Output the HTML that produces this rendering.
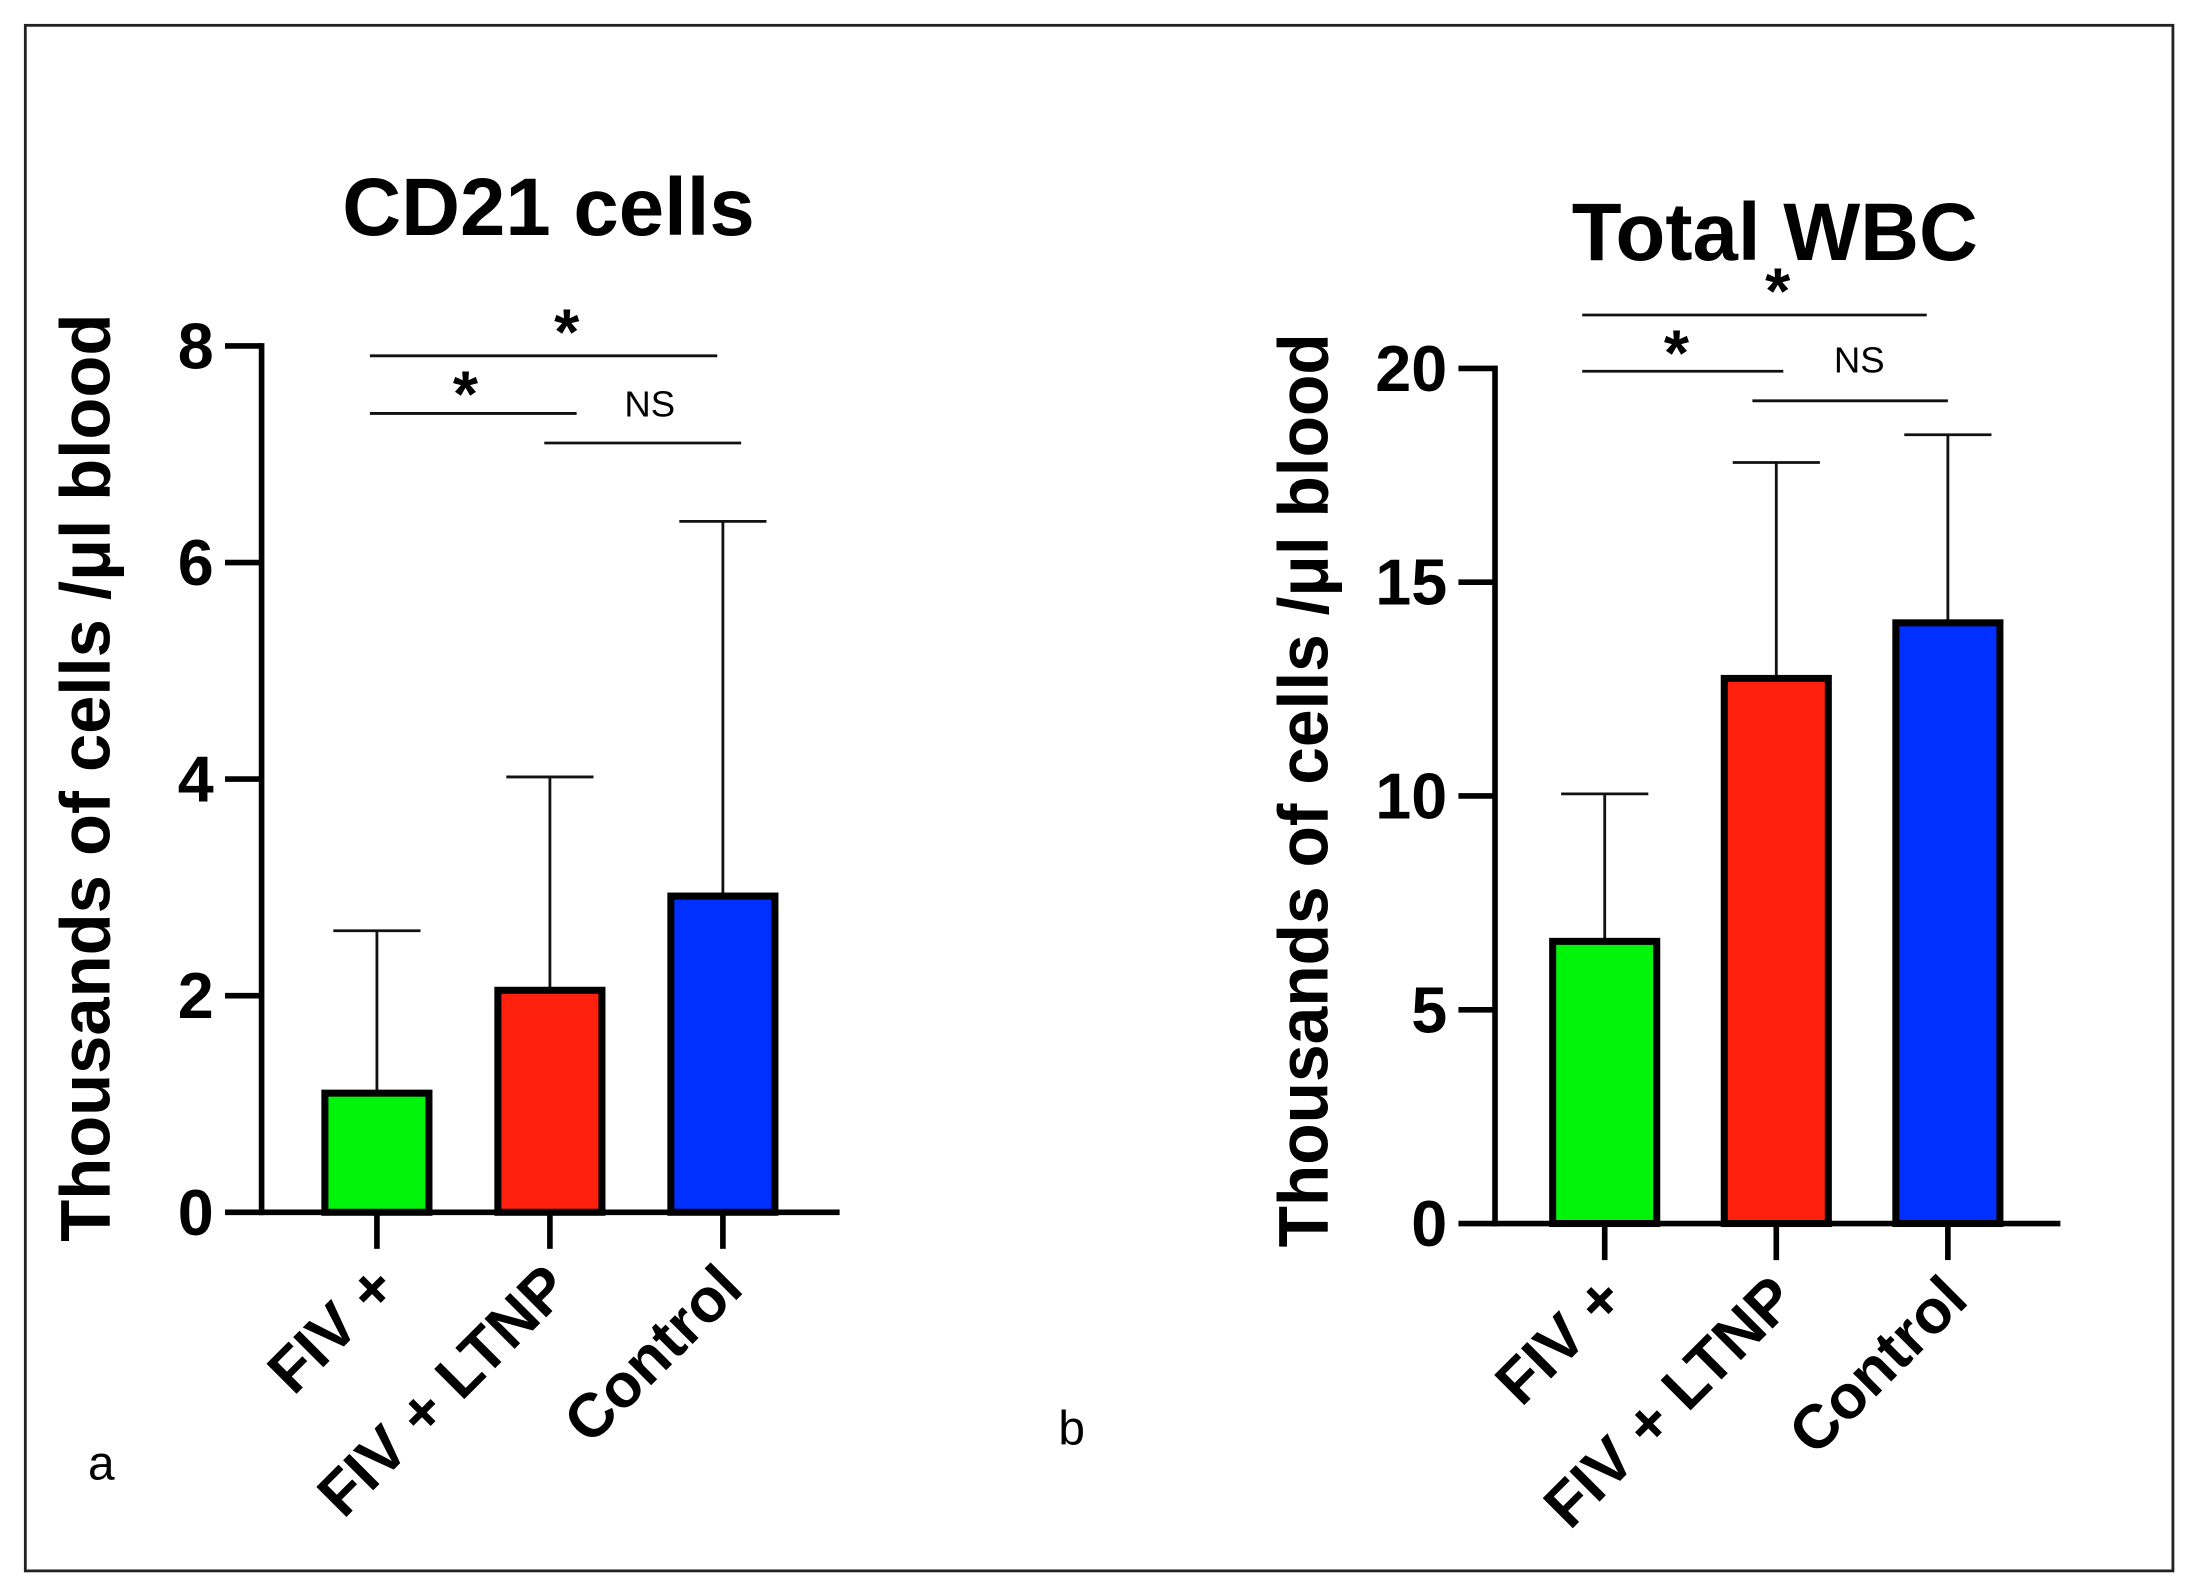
<!DOCTYPE html>
<html><head><meta charset="utf-8"><style>
html,body{margin:0;padding:0;background:#fff}
svg{display:block}
text{font-family:"Liberation Sans",Arial,sans-serif}
</style></head><body>
<svg id="fig" width="2194" height="1591" viewBox="0 0 1560 1131.3" preserveAspectRatio="none" xmlns="http://www.w3.org/2000/svg">
<rect x="18" y="18" width="1527" height="1099" fill="#fff" stroke="#222" stroke-width="2"/>
<text x="72" y="1052" font-size="34" text-anchor="middle">a</text>
<text x="762" y="1027" font-size="34" text-anchor="middle">b</text>
<g id="chartA"></g>
<g id="chartB"></g>
</svg>
<script>
const categories = ["FIV +", "FIV + LTNP", "Control"];
const colors = ["#00f40a", "#ff200e", "#0030ff"];
const cd21Means = [1.1, 2.05, 2.92];
const cd21Errors = [2.6, 4.02, 6.38];
const cd21Ticks = [0, 2, 4, 6, 8];
const wbcMeans = [6.6, 12.75, 14.05];
const wbcErrors = [10.05, 17.8, 18.45];
const wbcTicks = [0, 5, 10, 15, 20];
const NS = "http://www.w3.org/2000/svg";

function mk(parent, tag, attrs, txt) {
  const e = document.createElementNS(NS, tag);
  for (const k in attrs) e.setAttribute(k, attrs[k]);
  if (txt !== undefined) e.textContent = txt;
  parent.appendChild(e);
  return e;
}

function drawChart(g, cfg, means, errs, ticks) {
  const yScale = v => cfg.y0 - (v - ticks[0]) / (ticks[ticks.length - 1] - ticks[0]) * (cfg.y0 - cfg.yTop);
  const xScale = i => cfg.x1 + i * cfg.step;
  let e;
  e = mk(g, "text", {x: cfg.titleX, y: cfg.titleY, "font-size": 58, "font-weight": "bold", "text-anchor": "middle"}, cfg.title);
  
  
  e = mk(g, "text", {x: 0, y: 0, "font-size": 50, "font-weight": "bold", "text-anchor": "middle", "textLength": cfg.ylabLen, "lengthAdjust": "spacingAndGlyphs", transform: `translate(${cfg.ylabX},${cfg.ylabY}) rotate(-90)`}, "Thousands of cells /\u03bcl blood");
  
  
  means.forEach((m, i) => {
    const cx = xScale(i);
    const ye = yScale(errs[i]);
    const ym = yScale(m);
    let l = mk(g, "line", {x1: cx, x2: cx, y1: ye, y2: ym, stroke: "#111", "stroke-width": 2});
    
    
    l = mk(g, "line", {x1: cx - 31, x2: cx + 31, y1: ye, y2: ye, stroke: "#111", "stroke-width": 2});
    
    
    const r = mk(g, "rect", {x: cx - 37, y: ym, width: 74, height: cfg.y0 - ym, fill: colors[i], stroke: "#000", "stroke-width": 5});
    
    
    l = mk(g, "line", {x1: cx, x2: cx, y1: cfg.y0, y2: cfg.y0 + 26, stroke: "#000", "stroke-width": 4});
    
    
    const t = mk(g, "text", {x: 0, y: 0, "font-size": 44, "font-weight": "bold", "text-anchor": "end", transform: `translate(${cx + 16},${cfg.y0 + 56}) rotate(-45)`}, categories[i]);
    
    
  });
  e = mk(g, "line", {x1: cfg.x0, x2: cfg.x0, y1: cfg.yTop - 2, y2: cfg.y0 + 2, stroke: "#000", "stroke-width": 4});
  
  
  e = mk(g, "line", {x1: cfg.x0 - 2, x2: cfg.xEnd, y1: cfg.y0, y2: cfg.y0, stroke: "#000", "stroke-width": 4});
  
  
  ticks.forEach(v => {
    const y = yScale(v);
    let l = mk(g, "line", {x1: cfg.x0 - 26, x2: cfg.x0, y1: y, y2: y, stroke: "#000", "stroke-width": 4});
    
    
    const t = mk(g, "text", {x: cfg.x0 - 34, y: y + 16, "font-size": 46, "font-weight": "bold", "text-anchor": "end"}, String(v));
    
    
  });
  cfg.sig.forEach(s => {
    const l = mk(g, "line", {x1: s.xa, x2: s.xb, y1: s.y, y2: s.y, stroke: "#111", "stroke-width": 2});
    
    
    const t = mk(g, "text", {x: s.tx, y: s.ty, "font-size": s.fs, "font-weight": s.fw, "text-anchor": "middle"}, s.label);
    
    
  });
}

drawChart(document.getElementById("chartA"), {
  title: "CD21 cells", titleX: 390, titleY: 167, ylabX: 78, ylabY: 553, ylabLen: 660,
  x0: 186, xEnd: 597, y0: 862, yTop: 246, x1: 268, step: 123,
  sig: [
    {xa: 263, xb: 510, y: 253, tx: 403, ty: 252, label: "*", fs: 46, fw: "bold"},
    {xa: 263, xb: 410, y: 294, tx: 331, ty: 296, label: "*", fs: 46, fw: "bold"},
    {xa: 387, xb: 527, y: 315, tx: 462, ty: 296, label: "NS", fs: 26, fw: "normal"}
  ]
}, cd21Means, cd21Errors, cd21Ticks);

drawChart(document.getElementById("chartB"), {
  title: "Total WBC", titleX: 1262, titleY: 185, ylabX: 944, ylabY: 562, ylabLen: 650,
  x0: 1063, xEnd: 1465, y0: 870, yTop: 262, x1: 1141, step: 122,
  sig: [
    {xa: 1125, xb: 1370, y: 224, tx: 1264, ty: 223, label: "*", fs: 46, fw: "bold"},
    {xa: 1125, xb: 1268, y: 264, tx: 1192, ty: 267, label: "*", fs: 46, fw: "bold"},
    {xa: 1246, xb: 1385, y: 285, tx: 1322, ty: 265, label: "NS", fs: 26, fw: "normal"}
  ]
}, wbcMeans, wbcErrors, wbcTicks);
</script>
</body></html>
